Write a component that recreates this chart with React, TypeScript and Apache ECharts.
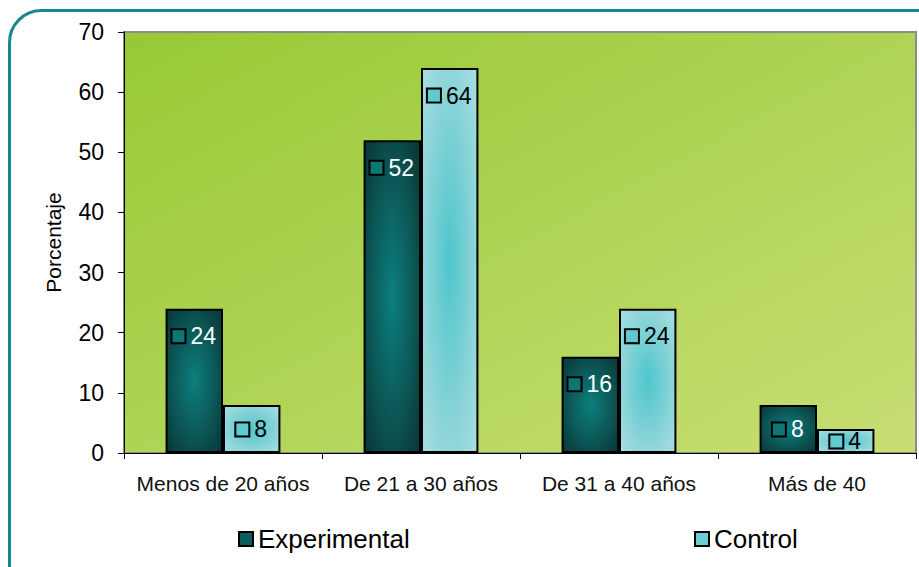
import React, { useEffect, useRef } from "react";
import * as echarts from "echarts";

const categories = ["Menos de 20 años", "De 21 a 30 años", "De 31 a 40 años", "Más de 40"];
const experimental = [24, 52, 16, 8];
const control = [8, 64, 24, 4];
const yTicks = { min: 0, max: 70, interval: 10 };

const FONT = "'Liberation Sans', Arial, sans-serif";

const expFill = {
  type: "radial", x: 0.5, y: 0.5, r: 0.75,
  colorStops: [
    { offset: 0, color: "#0c7f7d" },
    { offset: 0.55, color: "#0b5554" },
    { offset: 1, color: "#0a2f30" },
  ],
};
const ctrlFill = {
  type: "radial", x: 0.5, y: 0.5, r: 0.75,
  colorStops: [
    { offset: 0, color: "#4fc6cc" },
    { offset: 0.55, color: "#86d3d7" },
    { offset: 1, color: "#b0e0e3" },
  ],
};

// value labels sit just under the bar top, pulled inward on short bars
function labelFor(value: number, pxPerUnit: number) {
  const h = value * pxPerUnit;
  const distance = Math.max(1, Math.min(16, (h - 22) / 2));
  return { position: "insideTop", distance };
}

export default function App() {
  const ref = useRef<HTMLDivElement>(null);
  useEffect(() => {
    if (!ref.current) return;
    const chart = echarts.init(ref.current, undefined, { renderer: "svg" });
    const pxPerUnit = (453 - 32) / (yTicks.max - yTicks.min);
    const mkSeries = (name: string, values: number[], fill: any, txt: string, box: string) => ({
      name,
      type: "bar",
      barGap: "0%",
      barCategoryGap: "42%",
      itemStyle: { color: fill, borderColor: "#000", borderWidth: 2 },
      data: values.map((v) => ({ value: v, label: labelFor(v, pxPerUnit) })),
      label: {
        show: true,
        formatter: "{m|}{t|{c}}",
        rich: {
          m: {
            width: 12, height: 12,
            backgroundColor: box, borderColor: "#000", borderWidth: 2,
          },
          t: { fontSize: 23, color: txt, fontFamily: FONT, padding: [0, 0, 0, 6] },
        },
      },
    });
    chart.setOption({
      animation: false,
      backgroundColor: "#fff",
      textStyle: { fontFamily: FONT },
      graphic: [
        {
          type: "rect",
          shape: { x: 9.5, y: 10.5, width: 960, height: 620, r: 32 },
          style: { fill: "none", stroke: "#148a89", lineWidth: 3 },
          silent: true,
          z: -1,
        },
      ],
      grid: {
        left: 124, top: 32, right: 3, bottom: 114,
        show: true,
        borderColor: "#8c8c8c",
        borderWidth: 2,
        backgroundColor: {
          type: "linear", x: 0, y: 0, x2: 1, y2: 1,
          colorStops: [
            { offset: 0, color: "#96c935" },
            { offset: 1, color: "#c8de74" },
          ],
        },
      },
      legend: [
        {
          left: 233, top: 521,
          data: ["Experimental"],
          itemWidth: 14, itemHeight: 14, itemGap: 5,
          textStyle: { fontSize: 26, color: "#000", fontFamily: FONT },
          itemStyle: { borderColor: "#000", borderWidth: 2, color: "#0b5c5b" },
          icon: "rect",
        },
        {
          left: 689, top: 521,
          data: ["Control"],
          itemWidth: 14, itemHeight: 14, itemGap: 5,
          textStyle: { fontSize: 26, color: "#000", fontFamily: FONT },
          itemStyle: { borderColor: "#000", borderWidth: 2, color: "#6ccdd2" },
          icon: "rect",
        },
      ],
      xAxis: {
        type: "category",
        data: categories,
        axisLine: { lineStyle: { color: "#000", width: 1 } },
        axisTick: { show: true, length: 6, lineStyle: { color: "#000" } },
        axisLabel: { fontSize: 21, color: "#111", margin: 20, interval: 0, fontFamily: FONT },
      },
      yAxis: {
        type: "value",
        min: yTicks.min, max: yTicks.max, interval: yTicks.interval,
        name: "Porcentaje",
        nameLocation: "middle",
        nameGap: 60,
        nameTextStyle: { fontSize: 21, color: "#000", fontFamily: FONT },
        axisLine: { show: true, lineStyle: { color: "#000", width: 1 } },
        axisTick: { show: true, length: 6, lineStyle: { color: "#000" } },
        axisLabel: { fontSize: 23, color: "#000", margin: 20, fontFamily: FONT },
        splitLine: { show: false },
      },
      series: [
        mkSeries("Experimental", experimental, expFill, "#fff", "#0d7775"),
        mkSeries("Control", control, ctrlFill, "#000", "#5fcad0"),
      ],
    });
    return () => chart.dispose();
  }, []);
  return (
    <div
      ref={ref}
      style={{ position: "fixed", left: 0, top: 0, width: 919, height: 567 }}
    />
  );
}
